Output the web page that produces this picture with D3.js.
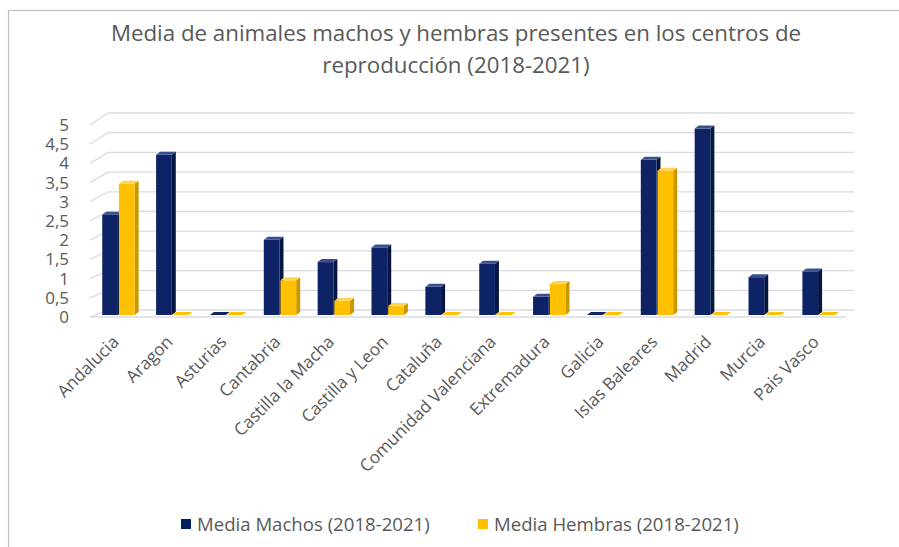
<!DOCTYPE html>
<html><head><meta charset="utf-8">
<script src="https://cdn.jsdelivr.net/npm/d3@7"></script>
<style>body{margin:0;background:#fff}svg{display:block;font-family:"Open Sans",sans-serif}</style>
</head><body><svg id="c" width="899" height="547"></svg>
<script>
const categories = ["Andalucia","Aragon","Asturias","Cantabria","Castilla la Macha","Castilla y Leon","Cataluña","Comunidad Valenciana","Extremadura","Galicia","Islas Baleares","Madrid","Murcia","Pais Vasco"];
const machos  = [2.6, 4.15, 0, 1.95, 1.37, 1.75, 0.73, 1.33, 0.47, 0, 4.02, 4.83, 0.98, 1.13];
const hembras = [3.4, 0, 0, 0.9, 0.37, 0.23, 0, 0, 0.8, 0, 3.74, 0, 0, 0];
const yTicks = [0,0.5,1,1.5,2,2.5,3,3.5,4,4.5,5];
const seriesNames = ["Media Machos (2018-2021)","Media Hembras (2018-2021)"];
const titleLines = ["Media de animales machos y hembras presentes en los centros de","reproducción (2018-2021)"];

const svg = d3.select("#c");
const colors = ["#0d2366","#ffc000"];
const sideCol = ["#061640","#c99700"];
const topCol = ["#3a4f8c","#ffd54d"];

// chart border
svg.append("rect").attr("x",8.5).attr("y",10.5).attr("width",900).attr("height",560)
  .attr("fill","none").attr("stroke","#bfbfbf").attr("stroke-width",1.2);

// title
svg.append("g").selectAll("text").data(titleLines).join("text")
  .attr("x",456).attr("y",(d,i)=>41+i*32).attr("text-anchor","middle")
  .attr("font-size",22.3).attr("fill","#595959").text(d=>d);

const yFront = d3.scaleLinear().domain([0,5]).range([317,125]);
const yBack  = d3.scaleLinear().domain([0,5]).range([310,113]);
const yBar   = d3.scaleLinear().domain([0,5]).range([315,122]);
const x = d3.scaleBand().domain(categories).range([92,846]).paddingInner(0.38).paddingOuter(0.19);
const x1 = d3.scaleBand().domain([0,1]).range([0,x.bandwidth()]);

// gridlines (back wall + diagonal)
const gl = svg.append("g").attr("stroke","#d9dbe3").attr("stroke-width",1.3).attr("fill","none");
yTicks.forEach(t=>{
  gl.append("path").attr("d",`M90,${yFront(t)}L108,${yBack(t)}L854,${yBack(t)}`);
});
// floor front edge
svg.append("path").attr("d",`M90,${yFront(0)}L846,${yFront(0)}`).attr("stroke","#d9dbe3").attr("stroke-width",1.3);

// y tick labels
svg.append("g").selectAll("text").data(yTicks).join("text")
  .attr("x",69).attr("y",d=>yFront(d)).attr("dy","0.35em").attr("text-anchor","end")
  .attr("font-size",17).attr("fill","#595959").text(d=>String(d).replace(".",","));

// bars with simple 3D faces
const dx = 4, dy = 3;
const data = [];
categories.forEach((c,i)=>{ data.push({c,s:0,v:machos[i]}); data.push({c,s:1,v:hembras[i]}); });
const bg = svg.append("g");
data.forEach(d=>{
  const x0 = x(d.c)+x1(d.s), w = x1.bandwidth()-1, yt = yBar(d.v), yb = yBar(0);
  const g = bg.append("g");
  g.append("path").attr("d",`M${x0+w},${yt}L${x0+w+dx},${yt-dy}L${x0+w+dx},${yb-dy}L${x0+w},${yb}Z`).attr("fill",sideCol[d.s]);
  g.append("rect").attr("x",x0).attr("y",yt).attr("width",w).attr("height",yb-yt).attr("fill",colors[d.s]);
  g.append("path").attr("d",`M${x0},${yt}L${x0+dx},${yt-dy}L${x0+w+dx},${yt-dy}L${x0+w},${yt}Z`).attr("fill",d.v>0?topCol[d.s]:colors[d.s]);
});

// x labels
svg.append("g").selectAll("text").data(categories).join("text")
  .attr("transform",d=>`translate(${x(d)+x.bandwidth()/2+1},${343}) rotate(-45)`)
  .attr("text-anchor","end").attr("font-size",17.2).attr("fill","#595959").text(d=>d);

// legend
const legX = [181,478];
const lg = svg.append("g");
seriesNames.forEach((n,i)=>{
  lg.append("rect").attr("x",legX[i]).attr("y",519).attr("width",10).attr("height",10).attr("fill",i===0?"#002060":"#ffc000");
  lg.append("text").attr("x",legX[i]+16).attr("y",524).attr("dy","0.35em").attr("font-size",18.6).attr("fill","#595959").text(n);
});
</script></body></html>
